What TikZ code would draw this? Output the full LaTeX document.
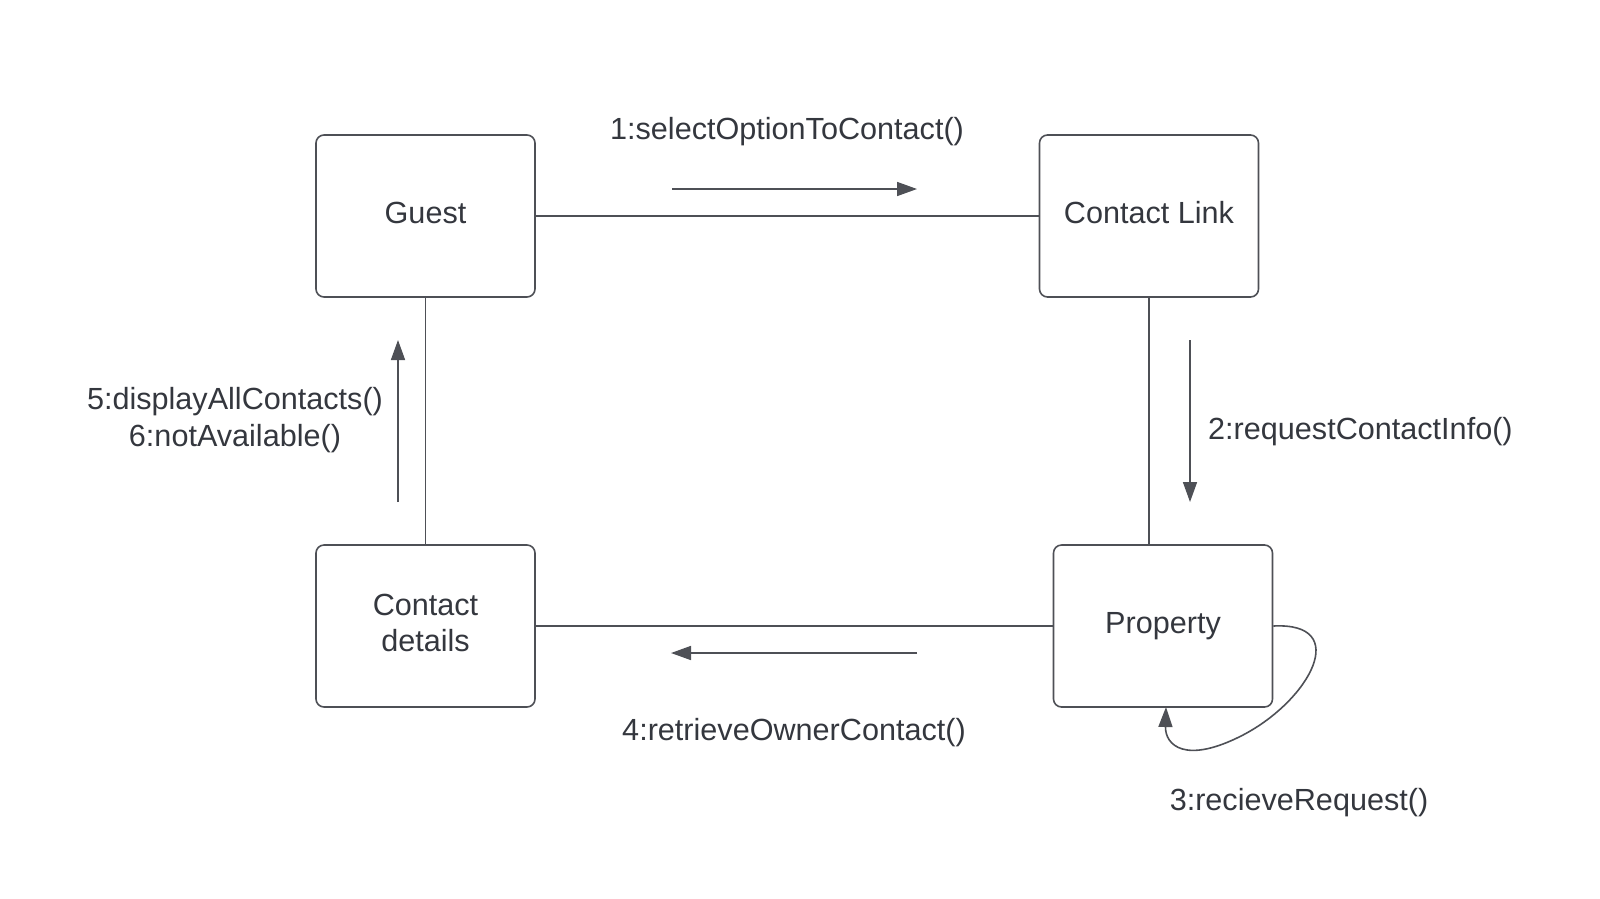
\documentclass[tikz,border=0pt]{standalone}
\usepackage{fontspec}
\setmainfont{Liberation Sans}
\usetikzlibrary{arrows.meta}
\definecolor{lc}{RGB}{78,80,86}
\definecolor{tc}{RGB}{52,55,62}
\newcommand{\boxtext}[1]{\raisebox{3pt}{\begin{tabular}{@{}c@{}}#1\end{tabular}}}
\begin{document}
\begin{tikzpicture}[x=1pt,y=-1pt,
  obj/.style={draw=lc,line width=1.6pt,rounded corners=8pt,minimum width=219pt,minimum height=162pt,inner sep=0pt,text=tc,font=\fontsize{30.6}{36.7}\selectfont},
  lbl/.style={text=tc,inner sep=0pt,align=center,font=\fontsize{30.6}{36.7}\selectfont},
  conn/.style={draw=lc,line width=1.6pt},
  msg/.style={draw=lc,line width=1.6pt,-{Triangle[length=20pt,width=14pt]}}]
\useasboundingbox (0,0) rectangle (1600,898);
\node[obj] (guest) at (425.5,216) {\boxtext{Guest}};
\node[obj] (link) at (1149,216) {\boxtext{Contact Link}};
\node[obj] (details) at (425.5,626) {\boxtext{Contact\\details}};
\node[obj] (prop) at (1163,626) {\boxtext{Property}};
\draw[conn] (guest.east) -- (link.west);
\draw[conn] (guest.south) -- (details.north);
\draw[conn] (details.east) -- (prop.west);
\draw[conn] (link.south) -- (link.south |- prop.north);
\coordinate (a1s) at (672,189); \coordinate (a1e) at (917,189);
\coordinate (a2s) at (1190,340); \coordinate (a2e) at (1190,502);
\coordinate (a4s) at (917,653); \coordinate (a4e) at (671,653);
\coordinate (a5s) at (398,502); \coordinate (a5e) at (398,340);
\draw[msg] (a1s) -- (a1e);
\draw[msg] (a2s) -- (a2e);
\draw[msg] (a4s) -- (a4e);
\draw[msg] (a5s) -- (a5e);
\draw[msg] (prop.east) .. controls (1352,622) and (1310,700) .. (1243,735) .. controls (1185,765) and (1165,745) .. (1166,707);
\node[lbl] (l1) at (787,132) {1:selectOptionToContact()};
\node[lbl,anchor=west] (l2) at (1208,432) {2:requestContactInfo()};
\node[lbl] (l3) at (1299,803) {3:recieveRequest()};
\node[lbl] (l4) at (794,733) {4:retrieveOwnerContact()};
\node[lbl] (l5) at (235,420) {5:displayAllContacts()\\6:notAvailable()};
\end{tikzpicture}
\end{document}
